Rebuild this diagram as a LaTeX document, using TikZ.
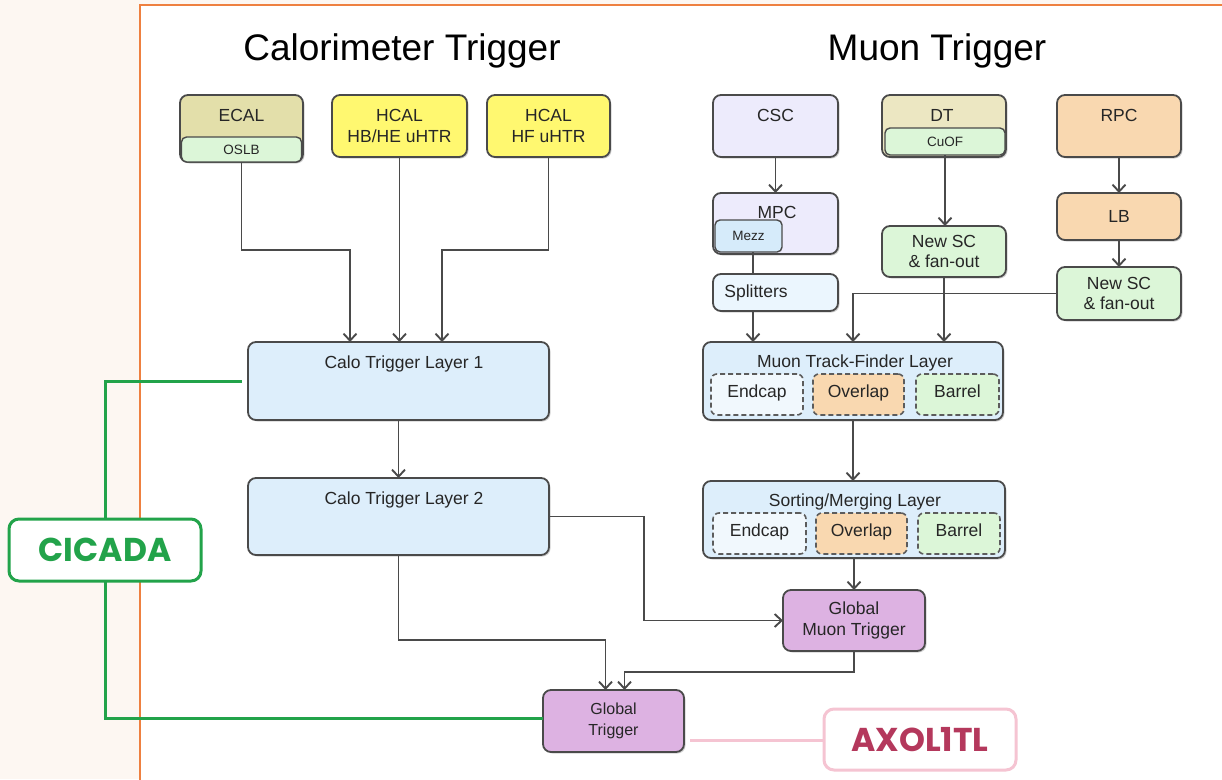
\documentclass[tikz,border=0pt]{standalone}
\usepackage{fontspec}
\setmainfont{Liberation Sans}
\newfontfamily\popfont{Poppins}
\usetikzlibrary{arrows.meta,calc,shadows}
\definecolor{peach}{HTML}{FDF7F2}
\definecolor{orframe}{HTML}{EE8040}
\definecolor{ecalc}{HTML}{E3DFAA}
\definecolor{yel}{HTML}{FFF870}
\definecolor{lav}{HTML}{EDEBFC}
\definecolor{dtc}{HTML}{ECE7C2}
\definecolor{orn}{HTML}{F9D8B0}
\definecolor{lgreen}{HTML}{DCF6D8}
\definecolor{lblue}{HTML}{DDEEFB}
\definecolor{mezzc}{HTML}{D6EBFA}
\definecolor{splc}{HTML}{EBF6FE}
\definecolor{endc}{HTML}{F1F8FD}
\definecolor{purp}{HTML}{DDB2E2}
\definecolor{edge}{HTML}{4A4A4A}
\definecolor{txtc}{HTML}{262626}
\definecolor{cgreen}{HTML}{22A34A}
\definecolor{pinkl}{HTML}{F5C4D2}
\definecolor{axc}{HTML}{B4385C}
\tikzset{
  box/.style={draw=edge, line width=1.8pt, rounded corners=8pt, inner sep=0pt, outer sep=0pt,
    drop shadow={shadow xshift=1.5pt, shadow yshift=-1.5pt, opacity=0.18, fill=black}},
  subbox/.style={draw=edge, line width=1.4pt, rounded corners=5pt, inner sep=0pt, outer sep=0pt, font=\fontsize{13.5}{15}\selectfont, text=txtc},
  dbox/.style={draw=edge!90, dashed, dash pattern=on 5pt off 3pt, line width=1.6pt, rounded corners=6pt, inner sep=0pt, outer sep=0pt, font=\fontsize{17.5}{19}\selectfont, text=txtc, text height=0.72em, text depth=0.2em},
  txt/.style={font=\fontsize{17.5}{20.5}\selectfont, text=txtc, align=center, inner sep=0pt},
  arr/.style={draw=edge, line width=1.6pt, -{Straight Barb[length=7pt,width=13pt,line width=1.9pt]}},
  ln/.style={draw=edge, line width=1.6pt},
  gline/.style={draw=cgreen, line width=3pt},
  tag/.style={draw, line width=3pt, rounded corners=10pt, fill=white, inner sep=0pt, outer sep=0pt,
    font=\popfont\bfseries\fontsize{33}{35}\selectfont},
  title/.style={font=\fontsize{37}{40}\selectfont, text=black, inner sep=0pt}
}
\begin{document}
\begin{tikzpicture}[x=1pt,y=-1pt]
\useasboundingbox (0,0) rectangle (1222,779);
\fill[peach] (0,0) rectangle (1222,779);
\filldraw[fill=white, draw=orframe, line width=2pt] (140,5) rectangle (1240,800);

% titles
\node[title] (tcal) at (402,51) {Calorimeter Trigger};
\node[title] (tmu) at (937,51) {Muon Trigger};

% calorimeter sources
\node[box, fill=ecalc, minimum width=123pt, minimum height=67pt] (ecal) at (241.5,128.5) {};
\node[txt] (ecalt) at (241.5,115) {ECAL};
\node[subbox, fill=lgreen, minimum width=120pt, minimum height=25pt] (oslb) at (241.5,149.5) {OSLB};
\node[box, fill=yel, minimum width=135pt, minimum height=62pt, txt] (hbhe) at (399.5,126) {HCAL\\HB/HE uHTR};
\node[box, fill=yel, minimum width=123pt, minimum height=62pt, txt] (hf) at (548.5,126) {HCAL\\HF uHTR};

% calo layers
\node[box, fill=lblue, minimum width=301pt, minimum height=78pt] (l1) at (398.5,381) {};
\node[txt] (l1t) at (404,364) {Calo Trigger Layer 1};
\node[box, fill=lblue, minimum width=301pt, minimum height=77pt] (l2) at (398.5,516.5) {};
\node[txt] (l2t) at (404,500) {Calo Trigger Layer 2};

% muon sources
\node[box, fill=lav, minimum width=125pt, minimum height=62pt] (csc) at (775.5,126) {};
\node[txt] (csct) at (775.5,115) {CSC};
\node[box, fill=dtc, minimum width=124pt, minimum height=62pt] (dt) at (944,126) {};
\node[txt] (dtt) at (942,115) {DT};
\node[subbox, fill=lgreen, minimum width=120pt, minimum height=27pt] (cuof) at (945,141.5) {CuOF};
\node[box, fill=orn, minimum width=124pt, minimum height=62pt] (rpc) at (1119,126) {};
\node[txt] (rpct) at (1119,115) {RPC};

\node[box, fill=lav, minimum width=125pt, minimum height=61pt] (mpc) at (775.5,223.5) {};
\node[txt] (mpct) at (777,212) {MPC};
\node[subbox, fill=mezzc, minimum width=67pt, minimum height=32pt] (mezz) at (748.5,236) {Mezz};
\node[box, fill=splc, minimum width=125pt, minimum height=37pt] (spl) at (775.5,292.5) {};
\node[txt] (splt) at (756,293) {Splitters};

\node[box, fill=lgreen, minimum width=124pt, minimum height=51pt, txt] (nsc1) at (944,251.5) {New SC\\\& fan-out};
\node[box, fill=orn, minimum width=124pt, minimum height=47pt, txt] (lb) at (1119,216.5) {LB};
\node[box, fill=lgreen, minimum width=124pt, minimum height=53pt, txt] (nsc2) at (1119,293.5) {New SC\\\& fan-out};

% muon layers
\node[box, fill=lblue, minimum width=300pt, minimum height=78pt] (tf) at (853,381) {};
\node[txt] (tft) at (855,363) {Muon Track-Finder Layer};
\node[dbox, fill=endc, minimum width=92pt, minimum height=41pt] (tfe) at (757,394.5) {Endcap};
\node[dbox, fill=orn, minimum width=91pt, minimum height=41pt] (tfo) at (858.5,394.5) {Overlap};
\node[dbox, fill=lgreen, minimum width=83pt, minimum height=41pt] (tfb) at (957.5,394.5) {Barrel};

\node[box, fill=lblue, minimum width=302pt, minimum height=77pt] (sm) at (854,519.5) {};
\node[txt] (smt) at (855,502) {Sorting/Merging Layer};
\node[dbox, fill=endc, minimum width=93pt, minimum height=41pt] (sme) at (759.5,533.5) {Endcap};
\node[dbox, fill=orn, minimum width=91pt, minimum height=41pt] (smo) at (861.5,533.5) {Overlap};
\node[dbox, fill=lgreen, minimum width=82pt, minimum height=41pt] (smb) at (959,533.5) {Barrel};

% global
\node[box, fill=purp, minimum width=142pt, minimum height=61pt, txt] (gmt) at (854,620.5) {Global\\Muon Trigger};
\node[box, fill=purp, minimum width=141pt, minimum height=62pt, txt, font=\fontsize{16}{21}\selectfont] (gt) at (613.5,721) {Global\\Trigger};

% tags
\node[tag, draw=cgreen, text=cgreen, minimum width=192pt, minimum height=62pt] (cicada) at (105,550) {CICADA};
\node[tag, draw=pinkl, text=axc, minimum width=192pt, minimum height=61pt] (axol) at (920,739.5) {AXOL1TL};

% calo connectors
\draw[arr] (oslb.south) |- ($(l1.north)+(-48.5,-92)$) -- ($(l1.north)+(-48.5,0)$);
\draw[arr] (hbhe.south) -- (hbhe.south |- l1.north);
\draw[arr] (hf.south) |- ($(l1.north)+(43.5,-92)$) -- ($(l1.north)+(43.5,0)$);
\draw[arr] (l1.south) -- (l2.north);
\draw[arr] (l2.south) |- ($(gt.north)+(-8,-50)$) -- ($(gt.north)+(-8,0)$);
\draw[arr] (l2.east) -- ++(95,0) |- (gmt.west);
\draw[arr] (gmt.south) |- ($(gt.north)+(11,-18)$) -- ($(gt.north)+(11,0)$);

% muon connectors
\draw[arr] (csc.south) -- (mpc.north);
\coordinate (mz) at ($(mezz.south)+(4.5,0)$);
\draw[ln] (mz) -- (mz |- spl.north);
\coordinate (sx) at (mz |- spl.south);
\draw[arr] (sx) -- (sx |- tf.north);
\draw[arr] (cuof.south) -- (cuof.south |- nsc1.north);
\draw[arr] (nsc1.south) -- (nsc1.south |- tf.north);
\draw[arr] (rpc.south) -- (lb.north);
\draw[arr] (lb.south) -- (nsc2.north);
\draw[arr] (nsc2.west) -| (tf.north);
\draw[arr] (tf.south) -- (tf.south |- sm.north);
\draw[arr] (sm.south) -- (gmt.north);

% ML tags
\coordinate (cl) at ($(l1.west)+(-6,0)$);
\draw[gline] (cicada.north) |- (cl);
\draw[gline] (cicada.south) |- ($(gt.west)+(0,-3)$);
\coordinate (pa) at ($(gt.east)+(6,19)$);
\draw[draw=pinkl, line width=3pt] (pa) -- (pa -| axol.west);
\end{tikzpicture}
\end{document}
